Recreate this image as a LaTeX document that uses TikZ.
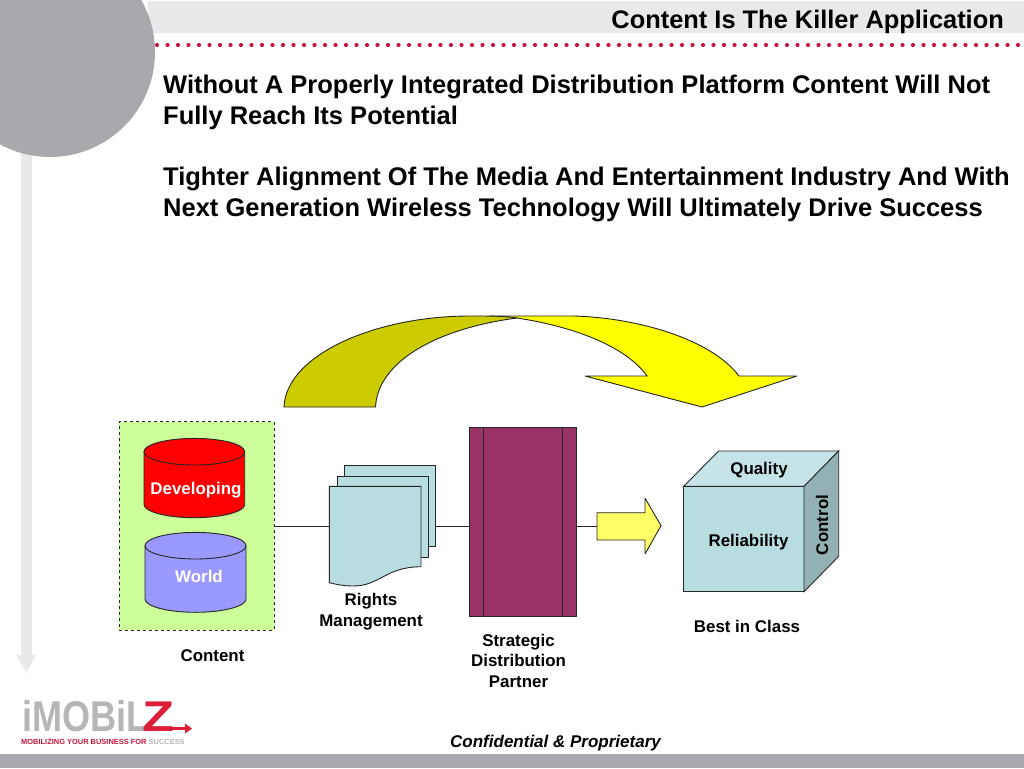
\documentclass[tikz,border=0pt]{standalone}
\usepackage{fontspec}
\setmainfont{Liberation Sans}
\definecolor{bandgrey}{HTML}{E8E9EB}
\definecolor{discgrey}{HTML}{A7A9AC}
\definecolor{dotred}{HTML}{C8173F}
\definecolor{logored}{HTML}{DC2039}
\definecolor{paleteal}{HTML}{B8DDE0}
\definecolor{topteal}{HTML}{C6E4E7}
\definecolor{sideteal}{HTML}{93B1B3}
\definecolor{plum}{HTML}{993366}
\definecolor{palegreen}{HTML}{CCFF99}
\definecolor{periwinkle}{HTML}{9999FF}
\definecolor{olive}{HTML}{CCCC00}
\definecolor{brightyellow}{HTML}{FFFF00}
\definecolor{pured}{HTML}{FF0000}
\definecolor{lemon}{HTML}{FFFF66}
\definecolor{logogrey}{HTML}{B4B6B8}
\tikzset{
  shapeline/.style={draw=black!85,line width=0.9pt,miter limit=3},
  lbl/.style={font=\fontsize{16.9}{20.5}\selectfont\bfseries,align=center,anchor=base,inner sep=0pt},
  headline/.style={font=\fontsize{25.5}{31}\selectfont\bfseries,align=left,anchor=base west,inner sep=0pt},
  conn/.style={draw=black!85,line width=0.9pt},
}
\begin{document}
\begin{tikzpicture}[x=1pt,y=-1pt]
\useasboundingbox (0,0) rectangle (1024,768);
\fill[white] (0,0) rectangle (1024,768);
% page furniture
\fill[bandgrey] (148,1) rectangle (1024,33);
\fill[discgrey] (0,754) rectangle (1024,768);
\fill[bandgrey] (21,150) -- (32,150) -- (32,655) -- (36,655) -- (26.5,673) -- (16,655) -- (21,655) -- cycle;
\foreach \i in {0,...,82} \fill[dotred] ({157+10.5*\i},45) circle (2.1);
\fill[discgrey] (50,52) circle (105);
\node[anchor=base east,inner sep=0pt,font=\fontsize{25.4}{28}\selectfont\bfseries] (title) at (1004,28.5) {Content Is The Killer Application};
\node[headline] (para1) at (163,124) {Without A Properly Integrated Distribution Platform Content Will Not\\Fully Reach Its Potential};
\node[headline] (para2) at (163,216) {Tighter Alignment Of The Media And Entertainment Industry And With\\Next Generation Wireless Technology Will Ultimately Drive Success};
% curved arrow
\path[fill=brightyellow,shapeline] (490,316) -- (574,316) .. controls (640,318) and (712,340) .. (739,376) -- (797,376) -- (702,407) -- (585,376) -- (647,376) .. controls (625,345) and (570,326) .. (517,318) -- cycle;
\path[fill=olive,shapeline] (284,407) .. controls (286,355) and (375,316) .. (470,316) .. controls (490,316) and (505,316) .. (517,318) .. controls (440,328) and (378,360) .. (375.5,407) -- cycle;
% content box
\node[draw=black!85,dashed,line width=0.9pt,fill=palegreen,minimum width=154.7pt,minimum height=208.3pt,inner sep=0pt] (content) at (196.65,526) {};
% cylinders
\path[fill=pured,shapeline] (144,451.7) -- (144,504.4) arc[start angle=180,end angle=0,x radius=50.35,y radius=13.3] -- (244.7,451.7) -- cycle;
\path[fill=pured,shapeline] (194.35,451.7) ellipse[x radius=50.35,y radius=13.3];
\path[fill=periwinkle,shapeline] (145,545.7) -- (145,599) arc[start angle=180,end angle=0,x radius=50.5,y radius=13.3] -- (246,545.7) -- cycle;
\path[fill=periwinkle,shapeline] (195.5,545.7) ellipse[x radius=50.5,y radius=13.3];
\node[lbl,text=white] (devlbl) at (196,494) {Developing};
\node[lbl,text=white] (worldlbl) at (199,582) {World};
\node[lbl] (contentlbl) at (212.5,661) {Content};
% connectors
\coordinate (docin) at (329.3,526);
\coordinate (docout) at (435.7,526);
\coordinate (tallin) at (469,526);
\coordinate (tallout) at (576,526);
\coordinate (arrowin) at (597,526);
\draw[conn] (content.east) -- (docin);
\draw[conn] (docout) -- (tallin);
\draw[conn] (tallout) -- (arrowin);
% documents
\path[fill=paleteal,shapeline] (344,465.7) rectangle (435.7,546.3);
\path[fill=paleteal,shapeline] (337,476) rectangle (428,557);
\path[fill=paleteal,shapeline] (329.3,486.3) -- (421,486.3) -- (421,566.7) .. controls (385,567) and (380,586) .. (353,586) .. controls (343,586) and (335,584) .. (329.3,582.7) -- cycle;
\node[lbl] (rights) at (371,626) {Rights\\Management};
% partner
\node[shapeline,fill=plum,minimum width=107pt,minimum height=189pt,inner sep=0pt] (tall) at (522.5,521.5) {};
\draw[conn] (483,427) -- (483,616);
\draw[conn] (562,427) -- (562,616);
\node[lbl] (partner) at (518.5,687) {Strategic\\Distribution\\Partner};
% block arrow
\path[fill=lemon,shapeline] (597,512.7) -- (645,512.7) -- (645,498) -- (661,525.7) -- (645,554) -- (645,540) -- (597,540) -- cycle;
% cube
\path[fill=paleteal,shapeline] (683.7,486.3) rectangle (804,591.7);
\path[fill=topteal,shapeline] (683.7,486.3) -- (718.7,451) -- (838.7,451) -- (804,486.3) -- cycle;
\path[fill=sideteal,shapeline] (804,486.3) -- (838.7,451) -- (838.7,556.3) -- (804,591.7) -- cycle;
\node[lbl] (quality) at (759,474) {Quality};
\node[lbl] (reliab) at (748.5,546) {Reliability};
\node[lbl,anchor=center,rotate=90] (control) at (822,525) {Control};
\node[lbl] (best) at (747,632) {Best in Class};
\node[lbl,font=\fontsize{17}{20}\selectfont\bfseries\itshape] (conf) at (555.5,747) {Confidential \& Proprietary};
% logo
\node[anchor=base west,inner sep=0pt,text=logogrey,font=\fontsize{43}{43}\selectfont\bfseries,xscale=0.84] (logo) at (22,731) {iMOBiL};
\node[anchor=base west,inner sep=0pt,text=logored,font=\fontsize{43}{43}\selectfont\bfseries,xscale=1.22] (logoz) at (142,731) {Z};
\draw[logored,line width=2.6pt] (165,728.5) -- (186,728.5);
\fill[logored] (185,723.5) -- (192,728.5) -- (185,733.5) -- cycle;
\node[anchor=base west,inner sep=0pt,font=\fontsize{7.45}{7.45}\selectfont\bfseries,text=dotred] (tag) at (21,744) {MOBILIZING YOUR BUSINESS FOR \textcolor{logogrey}{SUCCESS}};
\end{tikzpicture}
\end{document}
